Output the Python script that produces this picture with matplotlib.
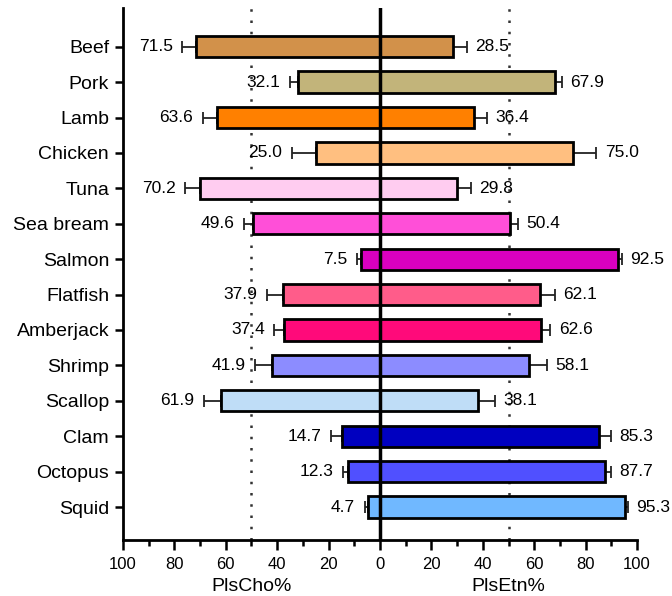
import matplotlib

matplotlib.use("Agg")
import matplotlib.pyplot as plt
import numpy as np
from matplotlib.ticker import FixedLocator, FuncFormatter

plt.rcParams["font.family"] = ["Liberation Sans", "DejaVu Sans"]

# data
foods = ["Beef", "Pork", "Lamb", "Chicken", "Tuna", "Sea bream", "Salmon",
         "Flatfish", "Amberjack", "Shrimp", "Scallop", "Clam", "Octopus", "Squid"]
pls_cho = [71.5, 32.1, 63.6, 25.0, 70.2, 49.6, 7.5, 37.9, 37.4, 41.9, 61.9, 14.7, 12.3, 4.7]
pls_etn = [28.5, 67.9, 36.4, 75.0, 29.8, 50.4, 92.5, 62.1, 62.6, 58.1, 38.1, 85.3, 87.7, 95.3]
sd = [5.4, 3.0, 5.3, 9.2, 5.5, 3.4, 1.5, 5.9, 3.7, 6.7, 6.7, 4.4, 2.0, 1.2]
colors = ["#D2914A", "#C2B47A", "#FF8000", "#FFBF80", "#FFCCF0", "#FF4FD8", "#D900C0",
          "#FF5C8A", "#FF0A7A", "#8C8CFF", "#BFDDF7", "#0000C0", "#5050FF", "#70B8FF"]

y = np.arange(len(foods))
left = -np.array(pls_cho)
right = np.array(pls_etn)
err = np.array(sd)
zero = np.zeros_like(err)

fig = plt.figure(figsize=(6.72, 5.96), dpi=100)
ax = fig.add_axes([0.183, 0.094, 0.765, 0.893])

# error bars first so the bars cover the inner caps
ax.errorbar(left, y, xerr=[err, zero], fmt="none", ecolor="#222222",
            elinewidth=1.3, capsize=4, capthick=1.3, zorder=1)
ax.errorbar(right, y, xerr=[zero, err], fmt="none", ecolor="#222222",
            elinewidth=1.3, capsize=4, capthick=1.3, zorder=1)

ax.barh(y, left, height=0.6, color=colors, edgecolor="black", linewidth=2, zorder=2)
ax.barh(y, right, height=0.6, color=colors, edgecolor="black", linewidth=2, zorder=2)

for yi, lv, rv, e in zip(y, left, right, err):
    ax.annotate(f"{-lv:.1f}", (lv - e, yi), xytext=(-7, 0), textcoords="offset points",
                ha="right", va="center", fontsize=12.5)
    ax.annotate(f"{rv:.1f}", (rv + e, yi), xytext=(6, 0), textcoords="offset points",
                ha="left", va="center", fontsize=12.5)

ax.axvline(0, color="black", linewidth=2.5, zorder=3)
for xv in (-50, 50):
    ax.axvline(xv, color="#333333", linewidth=1.8, linestyle=(0, (1, 3.5)), zorder=0)

ax.set_xlim(-100, 100)
ax.set_ylim(len(foods) - 1 + 0.93, -1.1)

ax.set_yticks(y)
ax.set_yticklabels(foods, fontsize=14)
ax.xaxis.set_major_locator(FixedLocator(np.arange(-100, 101, 20)))
ax.xaxis.set_minor_locator(FixedLocator(np.arange(-90, 100, 20)))
ax.xaxis.set_major_formatter(FuncFormatter(lambda v, p: f"{abs(v):.0f}"))
ax.tick_params(axis="x", which="major", length=7, width=1.8, labelsize=12, pad=5)
ax.tick_params(axis="x", which="minor", length=4, width=1.8)
ax.tick_params(axis="y", length=6, width=1.8, pad=4)

for s in ("top", "right"):
    ax.spines[s].set_visible(False)
for s in ("left", "bottom"):
    ax.spines[s].set_linewidth(2)

ax.text(-50, -0.072, "PlsCho%", transform=ax.get_xaxis_transform(),
        ha="center", va="top", fontsize=14)
ax.text(50, -0.072, "PlsEtn%", transform=ax.get_xaxis_transform(),
        ha="center", va="top", fontsize=14)

fig.savefig("out.png", dpi=100)
